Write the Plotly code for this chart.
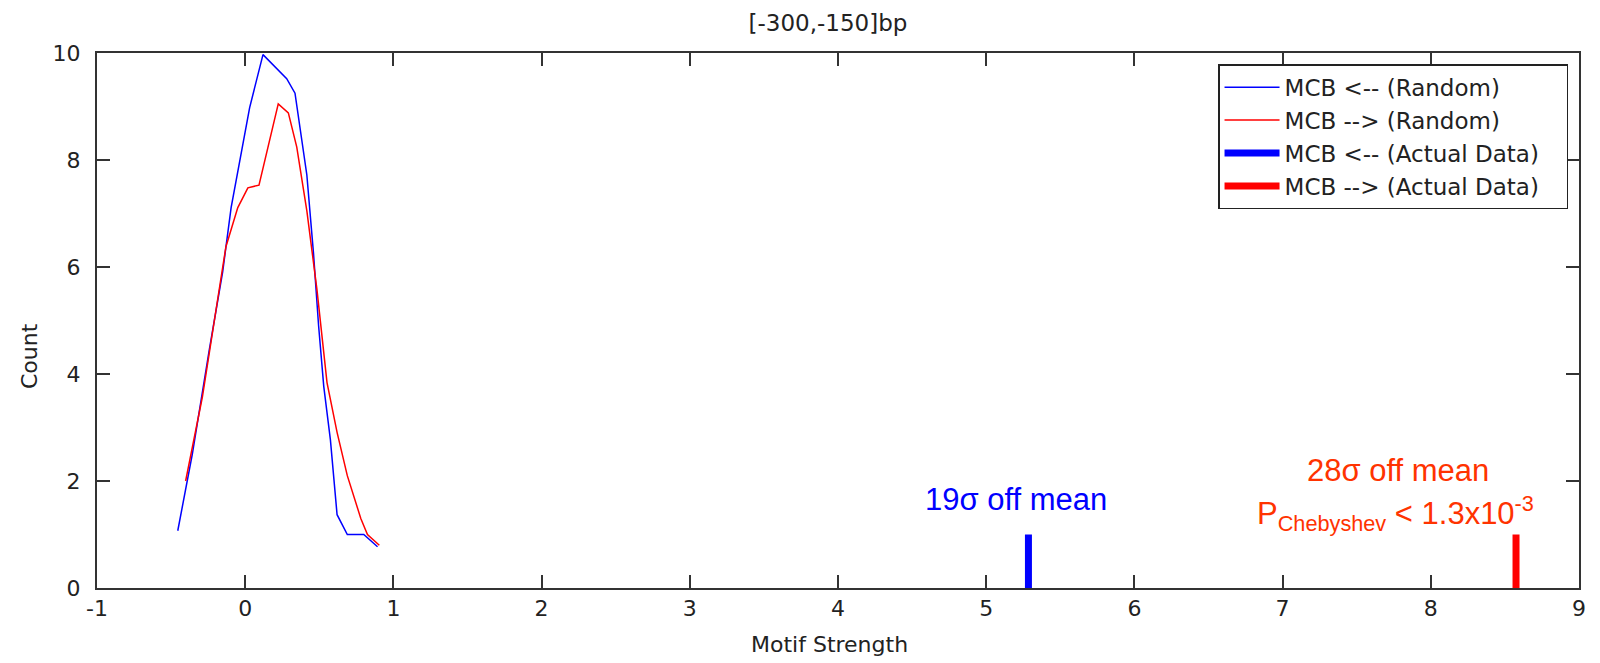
import plotly.graph_objects as go

# Random (blue, MCB <--)
blue_x = [-0.455, -0.357, -0.243, -0.152, -0.095, -0.05, 0.03, 0.12, 0.223, 0.28, 0.336, 0.416, 0.461, 0.495, 0.53, 0.575, 0.62, 0.689, 0.80, 0.893]
blue_y = [1.07, 2.5, 4.44, 5.91, 7.11, 7.79, 8.98, 9.97, 9.69, 9.52, 9.25, 7.72, 6.25, 4.91, 3.77, 2.77, 1.37, 1.0, 1.0, 0.77]
# Random (red, MCB -->)
red_x = [-0.402, -0.289, -0.13, -0.05, 0.018, 0.093, 0.223, 0.291, 0.348, 0.416, 0.484, 0.552, 0.62, 0.689, 0.78, 0.825, 0.905]
red_y = [2.0, 3.57, 6.38, 7.11, 7.48, 7.53, 9.05, 8.88, 8.24, 7.05, 5.58, 3.84, 2.91, 2.10, 1.30, 1.0, 0.80]
# Actual data
actual_blue_x = 5.285
actual_red_x = 8.575
actual_count = 1

x_ticks = [-1, 0, 1, 2, 3, 4, 5, 6, 7, 8, 9]
y_ticks = [0, 2, 4, 6, 8, 10]

FONT = "DejaVu Sans"
AX = "#333333"
TXT = "#222222"
PAD = "\u00a0\u00a0\u00a0"

fig = go.Figure()
fig.add_trace(go.Scatter(x=blue_x, y=blue_y, mode="lines", name="MCB <-- (Random)" + PAD,
                         line=dict(color="#0000ff", width=1.5)))
fig.add_trace(go.Scatter(x=red_x, y=red_y, mode="lines", name="MCB --> (Random)" + PAD,
                         line=dict(color="#ff0000", width=1.5)))
fig.add_trace(go.Scatter(x=[actual_blue_x, actual_blue_x], y=[0, actual_count], mode="lines",
                         name="MCB <-- (Actual Data)" + PAD, line=dict(color="#0000ff", width=7)))
fig.add_trace(go.Scatter(x=[actual_red_x, actual_red_x], y=[0, actual_count], mode="lines",
                         name="MCB --> (Actual Data)" + PAD, line=dict(color="#ff0000", width=7)))

fig.add_annotation(x=5.2, y=1.645, xref="x", yref="y", text="19σ off mean", showarrow=False,
                   font=dict(family="Liberation Sans", size=31, color="#0000ff"))
fig.add_annotation(x=7.78, y=2.19, xref="x", yref="y", text="28σ off mean", showarrow=False,
                   font=dict(family="Liberation Sans", size=31, color="#ff3300"))
fig.add_annotation(x=7.765, y=1.40, xref="x", yref="y",
                   text="P<sub>Chebyshev</sub> &lt; 1.3x10<sup>-3</sup>", showarrow=False,
                   font=dict(family="Liberation Sans", size=31, color="#ff3300"))

# axis titles (placed as in the reference, which is off-centre)
fig.add_annotation(x=0, y=0.4336, xref="paper", yref="paper", xshift=-68, text="Count",
                   textangle=-90, showarrow=False, xanchor="center", yanchor="middle",
                   font=dict(family=FONT, size=22, color=TXT))
fig.add_annotation(x=0.4946, y=-0.1065, xref="paper", yref="paper", text="Motif Strength",
                   showarrow=False, xanchor="center", yanchor="middle",
                   font=dict(family=FONT, size=22, color=TXT))

fig.update_layout(
    width=1600, height=663,
    margin=dict(l=89, r=29, t=45, b=83, autoexpand=False),
    paper_bgcolor="white", plot_bgcolor="white",
    title=dict(text="[-300,-150]bp", x=0.5125, xanchor="center", y=0.978, yanchor="middle",
               font=dict(family=FONT, size=23, color=TXT)),
    font=dict(family=FONT, size=22, color=TXT),
    legend=dict(x=0.9926, xanchor="right", y=0.979, yanchor="top",
                bordercolor=TXT, borderwidth=1.5, bgcolor="white",
                font=dict(family=FONT, size=23, color=TXT),
                tracegroupgap=0, itemwidth=55),
    showlegend=True,
)
fig.update_xaxes(range=[-1, 9], tickvals=x_ticks, ticktext=[str(v) for v in x_ticks],
                 ticks="inside", ticklen=13, tickwidth=2, tickcolor=AX,
                 showline=True, linecolor=AX, linewidth=2, mirror="ticks",
                 showgrid=False, zeroline=False, automargin=False,
                 tickfont=dict(family=FONT, size=22, color=TXT))
fig.update_yaxes(range=[0, 10], tickvals=y_ticks, ticktext=[str(v) for v in y_ticks],
                 ticks="inside", ticklen=13, tickwidth=2, tickcolor=AX,
                 showline=True, linecolor=AX, linewidth=2, mirror="ticks",
                 showgrid=False, zeroline=False, automargin=False,
                 ticklabelstandoff=10,
                 tickfont=dict(family=FONT, size=22, color=TXT))

fig.write_html("out.html")
